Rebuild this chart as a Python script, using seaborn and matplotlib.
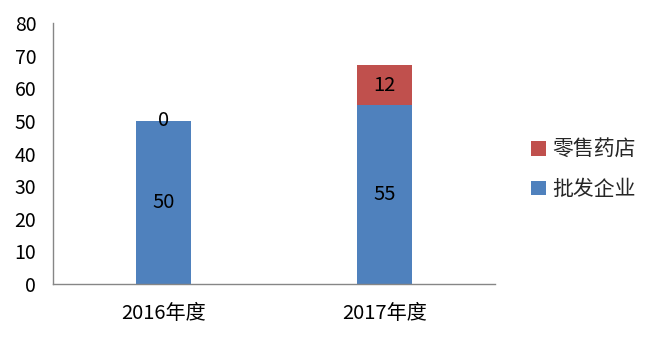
import matplotlib
matplotlib.use("Agg")
import matplotlib.pyplot as plt
import seaborn as sns
import pandas as pd
from matplotlib.patches import Patch

categories = ["2016年度", "2017年度"]
wholesale = [50, 55]   # 批发企业
retail = [0, 12]       # 零售药店
series_names = ["零售药店", "批发企业"]
yticks = [0, 10, 20, 30, 40, 50, 60, 70, 80]

sns.set_theme(style="white")
plt.rcParams['font.family'] = ['Noto Sans CJK SC', 'DejaVu Sans']

blue = "#4F81BD"
red = "#C0504D"
gray = "#868686"

df = pd.DataFrame({"cat": categories, "wholesale": wholesale, "retail": retail})
df["total"] = df["wholesale"] + df["retail"]

fig = plt.figure(figsize=(6.5, 3.39), dpi=100)
ax = fig.add_axes([0.0815, 0.1622, 0.68, 0.7699])

sns.barplot(data=df, x="cat", y="total", color=red, width=0.25, ax=ax,
            saturation=1, linewidth=0, errorbar=None)
sns.barplot(data=df, x="cat", y="wholesale", color=blue, width=0.25, ax=ax,
            saturation=1, linewidth=0, errorbar=None)

for i, (w, r) in enumerate(zip(wholesale, retail)):
    ax.text(i, w / 2, str(w), ha="center", va="center", fontsize=14.5, color="black")
    ax.text(i, w + r / 2, str(r), ha="center", va="center", fontsize=14.5, color="black")

ax.set_xlim(-0.5, 1.5)
ax.set_ylim(0, 80)
ax.set_yticks(yticks)
ax.set_yticklabels([str(t) for t in yticks], fontsize=14)
ax.set_xticks(range(len(categories)))
ax.set_xticklabels(categories, fontsize=14.5)
ax.set_xlabel("")
ax.set_ylabel("")
ax.tick_params(axis="y", length=0, pad=12, colors="black")
ax.tick_params(axis="x", length=0, pad=14, colors="black")
for s in ["top", "right"]:
    ax.spines[s].set_visible(False)
for s in ["left", "bottom"]:
    ax.spines[s].set_visible(True)
    ax.spines[s].set_color(gray)
    ax.spines[s].set_linewidth(1)

handles = [Patch(facecolor=red, edgecolor="none"), Patch(facecolor=blue, edgecolor="none")]
fig.legend(handles, series_names, loc="center left", bbox_to_anchor=(0.788, 0.5),
           frameon=False, fontsize=15, handlelength=0.7, handleheight=0.7,
           handletextpad=0.3, labelspacing=0.85)

fig.savefig("out.png", dpi=100, facecolor="white")
